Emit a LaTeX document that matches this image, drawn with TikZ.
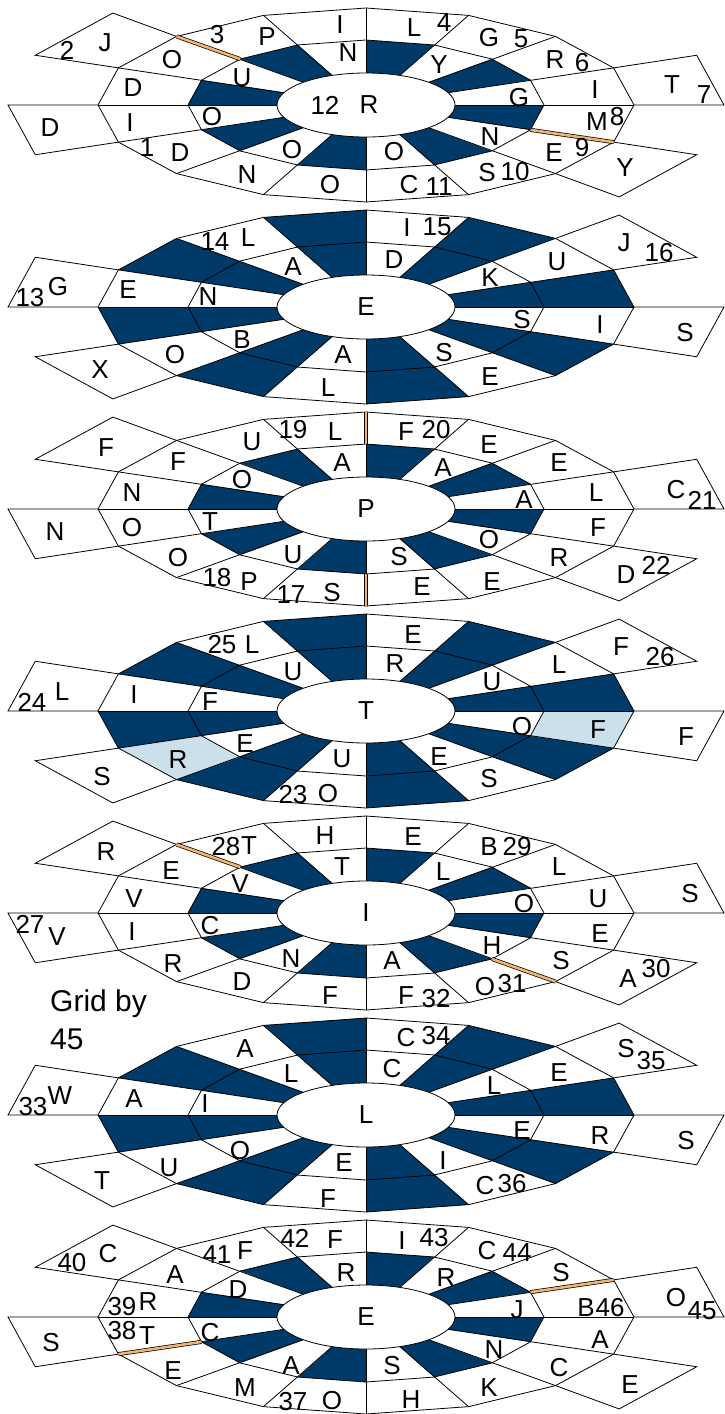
\documentclass[tikz,border=0pt]{standalone}
\usepackage{fontspec}
\setmainfont{Liberation Sans}
\definecolor{navy}{RGB}{0,58,104}
\definecolor{paleblue}{RGB}{204,224,236}
\definecolor{barorange}{RGB}{240,180,110}
\tikzset{
  grid line/.style={line width=0.8pt},
  lbl/.style={inner sep=0pt, font=\fontsize{26}{30}\selectfont},
  orangebar/.style={line width=0.7pt, double=barorange, double distance=2.6pt},
  note/.style={inner sep=0pt, anchor=base west, font=\fontsize{30}{34}\selectfont}
}
% corner points of one wheel, centre (366,#1)
\newcommand{\wheelpoints}[1]{%
  \coordinate (c) at (366,#1);
  \foreach \k in {0,...,16}{%
    \coordinate (p1-\k) at ({366+178*cos(22.5*\k)},{#1-65*sin(22.5*\k)});
    \coordinate (p2-\k) at ({366+268*cos(22.5*\k)},{#1-97*sin(22.5*\k)});
    \coordinate (p3-\k) at ({366+358*cos(22.5*\k)},{#1-130*sin(22.5*\k)});
  }}
% dark sectors, filled out to ring #2
\newcommand{\darkcells}[2]{%
  \foreach \k in {#1}{%
    \pgfmathtruncatemacro{\n}{\k+1}
    \fill[navy] (c) -- (p#2-\k) -- (p#2-\n) -- cycle;
  }}
% spokes, rings, petals and the centre
\newcommand{\wheelgrid}[1]{%
  \foreach \k in {0,...,15}{\draw[grid line] (c) -- (p2-\k);}
  \draw[grid line] (p1-0) \foreach \k in {1,...,15}{-- (p1-\k)} -- cycle;
  \draw[grid line] (p2-0) \foreach \k in {1,...,15}{-- (p2-\k)} -- cycle;
  \foreach \k in {#1}{%
    \pgfmathtruncatemacro{\n}{\k+1}
    \draw[grid line] (p2-\k) -- (p3-\k) -- (p3-\n) -- (p2-\n);
  }
  \draw[grid line, fill=white] (c) ellipse [x radius=89, y radius=32];
}
\begin{document}
\begin{tikzpicture}[x=1pt, y=-1pt]
    \useasboundingbox (0,0) rectangle (724,1414);
    % wheel 1
    \wheelpoints{105}
    \darkcells{1,3,...,15}{1}
    \wheelgrid{0,6,8,14}
    \draw[orangebar] (p1-6) -- (p2-6);
    \draw[orangebar] (p1-15) -- (p2-15);
    \foreach \px/\py/\txt [count=\i] in {325/105/12, 369/105/R,
        519/98/G, 439/65/Y, 348/53/N, 242/78/U, 212/117/O, 292/150/O, 394/152/O, 490/137/N,
        595/90/I, 555/60/R, 582/63/6, 489/38/G, 521/39/5, 414/28/L, 444/23/4, 340/25/I,
        217/35/3, 267/37/P, 172/60/O, 133/88/D, 130/123/I, 147/148/1, 180/153/D, 247/175/N,
        330/185/O, 409/185/C, 439/187/11, 487/173/S, 515/172/10, 554/153/E, 582/148/9,
        597/122/M, 617/117/8,
        672/85/T, 704/95/7, 67/50/2, 105/43/J, 50/128/D, 625/168/Y}
        {\node[lbl] (w1-\i) at (\px,\py) {\txt};}
    % wheel 2
    \wheelpoints{307}
    \darkcells{0,2,...,14}{2}
    \wheelgrid{1,7,9,15}
    \foreach \px/\py/\txt [count=\i] in {366/307/E,
        490/278/K, 394/260/D, 293/267/A, 208/297/N, 242/340/B, 343/355/A, 444/353/S, 522/320/S,
        557/262/U, 407/228/I, 437/227/15, 215/242/14, 248/238/L, 128/290/E, 175/355/O,
        328/388/L, 490/377/E, 600/325/I,
        624/243/J, 659/253/16, 30/298/13, 58/287/G, 100/370/X, 685/333/S}
        {\node[lbl] (w2-\i) at (\px,\py) {\txt};}
    % wheel 3
    \wheelpoints{509}
    \darkcells{1,3,...,15}{1}
    \wheelgrid{0,6,8,14}
    \draw[orangebar] (p1-4) -- (p2-4);
    \draw[orangebar] (p1-12) -- (p2-12);
    \foreach \px/\py/\txt [count=\i] in {366/509/P,
        524/500/A, 443/468/A, 342/463/A, 242/480/O, 210/522/T, 293/555/U, 399/557/S, 489/540/O,
        596/493/L, 559/463/E, 489/445/E, 406/432/F, 436/430/20, 293/430/19, 335/432/L,
        252/442/U, 178/462/F, 132/493/N, 132/528/O, 178/558/O, 217/578/18, 249/582/P,
        291/595/17, 332/593/S, 422/587/E, 492/582/E, 559/558/R, 598/528/F,
        676/490/C, 702/500/21, 106/448/F, 55/532/N, 626/575/D, 656/565/22}
        {\node[lbl] (w3-\i) at (\px,\py) {\txt};}
    % wheel 4
    \wheelpoints{711}
    \darkcells{0,2,...,14}{2}
    \fill[paleblue] (p1-9) -- (p2-9) -- (p2-10) -- (p1-10) -- cycle;
    \fill[paleblue] (p1-15) -- (p2-15) -- (p2-16) -- (p1-16) -- cycle;
    \wheelgrid{1,7,9,15}
    \foreach \px/\py/\txt [count=\i] in {366/711/T,
        492/682/U, 395/664/R, 293/672/U, 210/702/F, 245/744/E, 342/759/U, 439/757/E, 522/727/O,
        559/665/L, 413/635/E, 222/645/25, 252/645/L, 134/695/I, 178/760/R, 293/795/23,
        328/794/O, 489/779/S, 598/730/F,
        621/647/F, 660/657/26, 32/702/24, 62/692/L, 102/777/S, 686/737/F}
        {\node[lbl] (w4-\i) at (\px,\py) {\txt};}
    % wheel 5
    \wheelpoints{913}
    \darkcells{1,3,...,15}{1}
    \wheelgrid{0,6,8,14}
    \draw[orangebar] (p1-6) -- (p2-6);
    \draw[orangebar] (p1-14) -- (p2-14);
    \foreach \px/\py/\txt [count=\i] in {366/913/I,
        524/904/O, 443/872/L, 342/867/T, 240/884/V, 210/926/C, 291/959/N, 392/961/A, 492/946/H,
        598/899/U, 559/867/L, 489/847/B, 517/847/29, 413/837/E, 325/836/H, 226/847/28,
        249/846/T, 171/871/E, 134/899/V, 132/932/I, 173/964/R, 242/982/D, 330/996/F,
        406/996/F, 436/999/32, 485/987/O, 512/984/31, 561/961/S, 600/934/E,
        690/894/S, 106/852/R, 30/924/27, 57/937/V, 628/979/A, 656/969/30}
        {\node[lbl] (w5-\i) at (\px,\py) {\txt};}
    \node[note] (grid) at (50,1011) {Grid by};
    \node[note] (gridsize) at (50,1049) {45};
    % wheel 6
    \wheelpoints{1115}
    \darkcells{0,2,...,14}{2}
    \wheelgrid{1,7,9,15}
    \foreach \px/\py/\txt [count=\i] in {366/1115/L,
        494/1086/L, 392/1069/C, 291/1074/L, 205/1104/I, 240/1151/O, 344/1163/E, 443/1161/I,
        522/1131/E,
        559/1073/E, 406/1038/C, 436/1036/34, 245/1049/A, 134/1099/A, 169/1168/U, 328/1199/F,
        485/1186/C, 512/1184/36, 600/1136/R,
        626/1049/S, 651/1061/35, 33/1107/33, 60/1096/W, 102/1181/T, 686/1141/S}
        {\node[lbl] (w6-\i) at (\px,\py) {\txt};}
    % wheel 7
    \wheelpoints{1317}
    \darkcells{1,3,...,15}{1}
    \wheelgrid{0,6,8,14}
    \draw[orangebar] (p1-1) -- (p2-1);
    \draw[orangebar] (p1-9) -- (p2-9);
    \foreach \px/\py/\txt [count=\i] in {366/1317/E,
        517/1310/J, 446/1278/R, 346/1273/R, 238/1290/D, 210/1333/C, 291/1366/A, 392/1366/S,
        494/1350/N,
        586/1308/B, 610/1308/46, 561/1273/S, 487/1251/C, 517/1253/44, 402/1241/I, 434/1238/43,
        295/1238/42, 335/1240/F, 217/1255/41, 245/1251/F, 175/1275/A, 122/1307/39, 148/1302/R,
        122/1331/38, 147/1336/T, 173/1371/E, 245/1388/M, 293/1402/37, 332/1401/O, 411/1400/H,
        489/1388/K, 559/1368/C, 600/1340/A,
        676/1298/O, 702/1311/45, 72/1263/40, 108/1254/C, 51/1343/S, 630/1385/E}
        {\node[lbl] (w7-\i) at (\px,\py) {\txt};}
\end{tikzpicture}
\end{document}
